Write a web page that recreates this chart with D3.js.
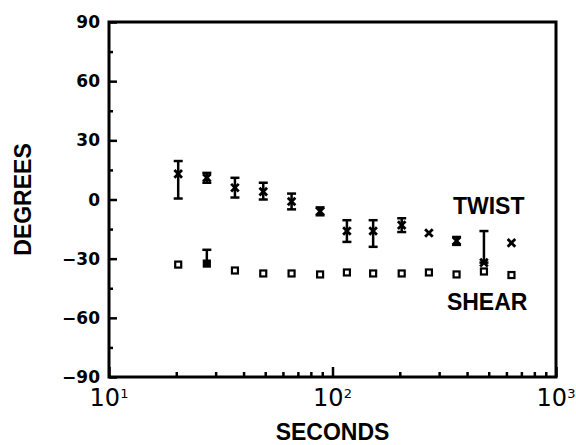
<!DOCTYPE html>
<html>
<head>
<meta charset="utf-8">
<script src="https://cdn.jsdelivr.net/npm/d3@7"></script>
<style>
  html, body { margin: 0; padding: 0; background: #fff; }
  svg { display: block; }
</style>
</head>
<body>
<div id="chart"></div>
<script>
// time points (seconds)
const times = [20.4, 27.4, 36.6, 49, 65.6, 88, 116, 152, 204, 270, 359, 476, 632];
// twist angle (degrees) and its error bars
const twist = [13, 11, 6, 4, -1, -6, -16, -16, -13, -17, -21, -32, -22];
const twistErrUp = [6.5, 2.5, 5, 4.5, 4, 2, 5.5, 5.5, 3.5, 0, 2, 16, 0];
const twistErrDown = [12.5, 2.5, 5, 4, 4, 2, 5.5, 8, 3.5, 0, 2, 0, 0];
// shear angle (degrees)
const shear = [-33, -32.5, -36, -37.5, -37.5, -38, -37, -37.5, -37.5, -37, -38, -36.5, -38.3];
const shearErrUp = [0, 7, 0, 0, 0, 0, 0, 0, 0, 0, 0, 0, 0];
const shearFilled = [false, true, false, false, false, false, false, false, false, false, false, false, false];

const yMajor = [-90, -60, -30, 0, 30, 60, 90];
const yMinor = [-75, -45, -15, 15, 45, 75];
const xMajor = [10, 100, 1000];
const xMinor = [20, 30, 40, 50, 60, 70, 80, 90, 200, 300, 400, 500, 600, 700, 800, 900];

const width = 576;
const height = 445;
const margin = { top: 22, right: 20, bottom: 68, left: 109 };
const innerWidth = width - margin.left - margin.right;
const innerHeight = height - margin.top - margin.bottom;
const labelFont = '"Liberation Sans", Arial, sans-serif';
const tickFont = '"DejaVu Sans", sans-serif';

const svg = d3.select('#chart')
  .append('svg')
  .attr('width', width)
  .attr('height', height);

const g = svg.append('g')
  .attr('transform', `translate(${margin.left},${margin.top})`);

const x = d3.scaleLog()
  .domain([10, 1000])
  .range([0, innerWidth]);

const y = d3.scaleLinear()
  .domain([-90, 90])
  .range([innerHeight, 0]);

// tick marks (inward), drawn with axes; labels drawn separately below
function tickAxis(axis, values, size) {
  const a = g.append('g')
    .call(axis.tickValues(values).tickSizeInner(-size).tickSizeOuter(0).tickFormat(''));
  a.select('.domain').remove();
  a.selectAll('text').remove();
  a.selectAll('line').attr('stroke-width', 2.5);
  return a;
}
tickAxis(d3.axisLeft(y), yMajor, 8);
tickAxis(d3.axisLeft(y), yMinor, 4);
tickAxis(d3.axisBottom(x), xMajor, 10).attr('transform', `translate(0,${innerHeight})`);
tickAxis(d3.axisBottom(x), xMinor, 5).attr('transform', `translate(0,${innerHeight})`);

// y tick labels
const yFmt = d3.format('d');
g.append('g').selectAll('text')
  .data(yMajor)
  .enter()
  .append('text')
  .attr('x', -9)
  .attr('y', d => y(d))
  .attr('dy', '0.36em')
  .attr('text-anchor', 'end')
  .attr('font-family', tickFont)
  .attr('font-weight', 'bold')
  .attr('font-size', 17)
  .text(d => yFmt(d));

// x tick labels: 10 with superscript exponent
const xLabels = g.append('g').selectAll('text')
  .data(xMajor)
  .enter()
  .append('text')
  .attr('x', d => x(d))
  .attr('y', innerHeight + 29)
  .attr('text-anchor', 'middle')
  .attr('font-family', tickFont)
  .attr('font-size', 24);
xLabels.append('tspan').text('10');
xLabels.append('tspan')
  .attr('font-size', 13)
  .attr('dy', '-8px')
  .text(d => Math.round(Math.log10(d)));

// frame
g.append('rect')
  .attr('x', 0)
  .attr('y', 0)
  .attr('width', innerWidth)
  .attr('height', innerHeight)
  .attr('fill', 'none')
  .attr('stroke', '#000')
  .attr('stroke-width', 3);

// twist error bars
const cap = 4.5;
const twistBars = g.append('g').selectAll('g')
  .data(times.map((t, i) => ({ t, v: twist[i], up: twistErrUp[i], down: twistErrDown[i] })))
  .enter()
  .append('g')
  .filter(d => d.up > 0 || d.down > 0);

twistBars.append('line')
  .attr('x1', d => x(d.t)).attr('x2', d => x(d.t))
  .attr('y1', d => y(d.v + d.up)).attr('y2', d => y(d.v - d.down))
  .attr('stroke', '#000').attr('stroke-width', 2.5);
twistBars.append('line')
  .attr('x1', d => x(d.t) - cap).attr('x2', d => x(d.t) + cap)
  .attr('y1', d => y(d.v + d.up)).attr('y2', d => y(d.v + d.up))
  .attr('stroke', '#000').attr('stroke-width', 2.5);
twistBars.append('line')
  .attr('x1', d => x(d.t) - cap).attr('x2', d => x(d.t) + cap)
  .attr('y1', d => y(d.v - d.down)).attr('y2', d => y(d.v - d.down))
  .attr('stroke', '#000').attr('stroke-width', 2.5);

// twist markers (x)
const s = 3.8;
g.append('g').selectAll('path')
  .data(times.map((t, i) => ({ t, v: twist[i] })))
  .enter()
  .append('path')
  .attr('d', d => {
    const cx = x(d.t), cy = y(d.v);
    return `M${cx - s},${cy - s}L${cx + s},${cy + s}M${cx - s},${cy + s}L${cx + s},${cy - s}`;
  })
  .attr('stroke', '#000')
  .attr('stroke-width', 2.8)
  .attr('fill', 'none');

// shear error bars
const shearBars = g.append('g').selectAll('g')
  .data(times.map((t, i) => ({ t, v: shear[i], up: shearErrUp[i] })))
  .enter()
  .append('g')
  .filter(d => d.up > 0);
shearBars.append('line')
  .attr('x1', d => x(d.t)).attr('x2', d => x(d.t))
  .attr('y1', d => y(d.v + d.up)).attr('y2', d => y(d.v))
  .attr('stroke', '#000').attr('stroke-width', 2.5);
shearBars.append('line')
  .attr('x1', d => x(d.t) - cap).attr('x2', d => x(d.t) + cap)
  .attr('y1', d => y(d.v + d.up)).attr('y2', d => y(d.v + d.up))
  .attr('stroke', '#000').attr('stroke-width', 2.5);

// shear markers (squares)
const sq = 6;
g.append('g').selectAll('rect')
  .data(times.map((t, i) => ({ t, v: shear[i], filled: shearFilled[i] })))
  .enter()
  .append('rect')
  .attr('x', d => x(d.t) - sq / 2)
  .attr('y', d => y(d.v) - sq / 2)
  .attr('width', sq)
  .attr('height', sq)
  .attr('fill', d => d.filled ? '#000' : '#fff')
  .attr('stroke', '#000')
  .attr('stroke-width', 2.2);

// series labels
const labelStyle = sel => sel
  .attr('font-family', labelFont)
  .attr('font-weight', 'bold')
  .attr('font-size', 23);

g.append('text')
  .call(labelStyle)
  .attr('x', x(346))
  .attr('y', y(-7.5))
  .text('TWIST');
g.append('text')
  .call(labelStyle)
  .attr('x', x(325))
  .attr('y', y(-56))
  .text('SHEAR');

// axis titles
svg.append('text')
  .call(labelStyle)
  .attr('text-anchor', 'middle')
  .attr('x', margin.left + innerWidth / 2)
  .attr('y', 440)
  .text('SECONDS');
svg.append('text')
  .call(labelStyle)
  .attr('text-anchor', 'middle')
  .attr('transform', `translate(31,${margin.top + y(0)}) rotate(-90)`)
  .text('DEGREES');
</script>
</body>
</html>
